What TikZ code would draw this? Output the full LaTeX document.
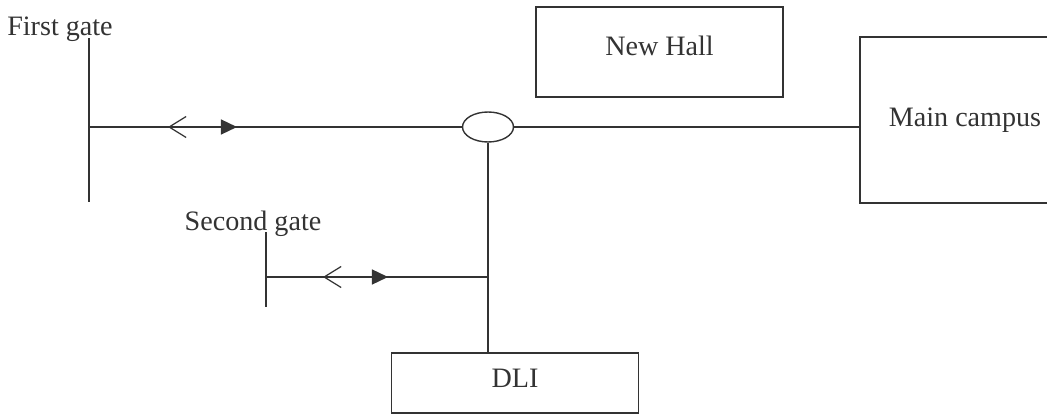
\documentclass[tikz,border=0pt]{standalone}
\usepackage{fontspec}
\setmainfont{Liberation Serif}
\usetikzlibrary{arrows.meta,shapes.geometric,decorations.markings}

\begin{document}
\begin{tikzpicture}[
  x=0.02cm, y=-0.02cm,
  every node/.style={font=\fontsize{16}{19}\selectfont, text=black!80},
  box/.style={rectangle,draw=black!80,line width=0.8pt},
  road/.style={draw=black!80,line width=0.8pt},
  twoway/.style 2 args={postaction={decorate},decoration={markings,
      mark=at position #1 with {\arrowreversed{Straight Barb[length=0.34cm,width=0.42cm,line width=0.7pt]}},
      mark=at position #2 with {\arrow{Triangle[length=0.32cm,width=0.3cm]}}}}
]
  \clip (0,0) rectangle (1047,415);

  \node[anchor=base] (gate1) at (60,36)  {First gate};
  \node[anchor=base] (gate2) at (253,231) {Second gate};
  \node[box,minimum width=4.94cm,minimum height=1.8cm,text depth=7pt] (hall) at (659.5,52) {New Hall};
  \node[box,minimum width=4.2cm,minimum height=3.32cm] (campus) at (965,120) {Main campus};
  \node[box,minimum width=4.94cm,minimum height=1.2cm,text depth=5pt] (dli) at (515,383) {DLI};
  \node[ellipse,draw=black!80,line width=0.8pt,minimum width=1.02cm,minimum height=0.6cm,inner sep=0pt] (jn) at (488,127) {};

  \coordinate (g1a) at (89,38);
  \coordinate (g1b) at (89,202);
  \coordinate (g1)  at (89,127);
  \coordinate (g2a) at (266,232);
  \coordinate (g2b) at (266,307);
  \coordinate (g2)  at (266,277);

  \draw[road] (g1a) -- (g1b);
  \draw[road,twoway={1.58cm}{2.96cm}] (g1) -- (jn.west);
  \draw[road] (jn.east) -- (campus.west |- jn.east);
  \draw[road] (jn.south) -- (jn.south |- dli.north);
  \draw[road] (g2a) -- (g2b);
  \draw[road,twoway={1.14cm}{2.44cm}] (g2) -- (jn.south |- g2);
\end{tikzpicture}
\end{document}
